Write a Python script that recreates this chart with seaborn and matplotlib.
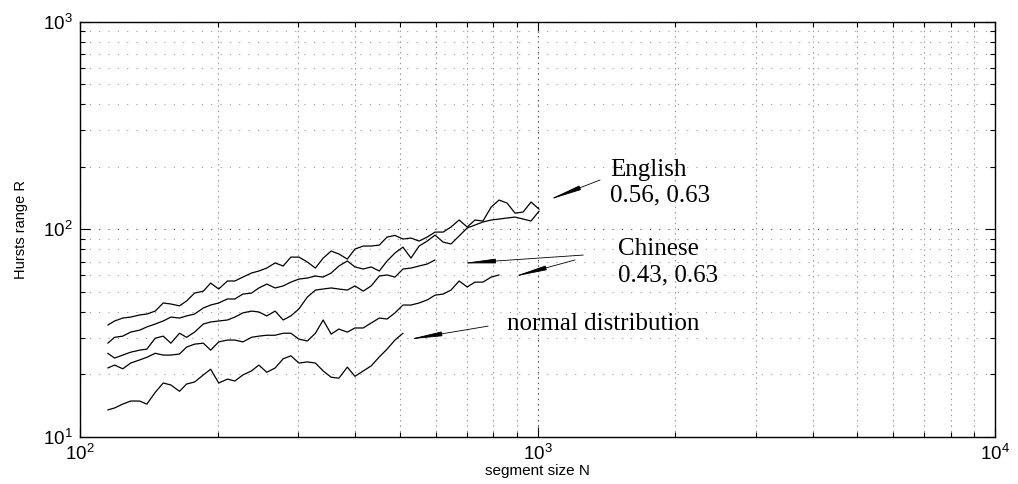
import numpy as np
import pandas as pd
import matplotlib
matplotlib.use("Agg")
import matplotlib.pyplot as plt
import seaborn as sns
from matplotlib.ticker import LogLocator, NullFormatter

# Segment sizes shared by all curves (each curve uses a leading part of it)
N_GRID = [115, 119, 124, 129, 135, 140, 146, 152, 158, 165, 171, 178, 186, 193,
          201, 210, 218, 227, 237, 246, 256, 267, 278, 289, 301, 314, 327, 340,
          354, 368, 384, 399, 416, 433, 451, 469, 488, 508, 529, 551, 574, 597,
          622, 647, 674, 702, 730, 760, 792, 824, 858, 893, 930, 968, 1008]

# Hurst range R for each text / reference series
R_ENGLISH_A = [34.6, 36.2, 37.4, 37.8, 38.7, 39.1, 40.4, 44.2, 43.7, 42.8,
               45.2, 49.3, 50.4, 55.1, 51.6, 56.4, 56.4, 58.9, 61.6, 63.0,
               65.1, 68.9, 66.6, 73.5, 73.5, 69.6, 65.1, 72.7, 78.6, 76.1,
               71.9, 80.4, 83.1, 83.1, 84.0, 91.8, 93.5, 89.8, 90.8, 87.8,
               91.8, 97.0, 97.0, 102.6, 110.9, 102.6, 110.9, 109.7, 128.0, 138.4,
               133.8, 119.7, 121.1, 135.4, 125.0]
R_ENGLISH_B = [28.3, 30.2, 30.6, 32.0, 32.7, 33.9, 35.0, 36.2, 37.8, 37.4,
               38.3, 39.1, 41.8, 43.2, 44.2, 46.2, 46.2, 48.8, 49.3, 52.2,
               54.5, 52.2, 53.4, 55.7, 57.6, 58.3, 59.6, 58.9, 61.6, 66.6,
               70.4, 65.9, 64.4, 65.9, 63.0, 70.4, 76.9, 82.1, 72.7, 83.1,
               87.8, 93.8, 86.8, 85.0, 92.9, 101.5, 104.9, 108.5, 110.9, 112.1,
               113.4, 114.6, 112.1, 109.7, 122.4]
R_CHINESE_A = [25.3, 24.0, 24.8, 25.6, 26.2, 26.5, 29.9, 30.6, 28.3, 31.6,
               30.2, 32.0, 35.0, 35.8, 36.2, 36.6, 37.8, 39.6, 40.4, 40.0,
               38.3, 40.4, 36.6, 38.3, 41.4, 47.2, 51.0, 51.6, 52.2, 51.6,
               51.0, 53.4, 50.4, 53.4, 59.6, 60.3, 58.9, 64.4, 65.1, 66.6,
               68.1, 71.2]
R_CHINESE_B = [21.5, 22.2, 21.3, 22.7, 23.5, 24.2, 25.3, 24.8, 24.8, 25.1,
               27.1, 28.0, 28.3, 26.2, 28.7, 29.3, 29.3, 28.7, 30.2, 30.6,
               30.9, 30.9, 31.6, 31.6, 29.6, 29.0, 31.6, 36.6, 31.3, 33.1,
               32.0, 33.5, 33.5, 35.4, 37.4, 37.0, 39.6, 43.2, 43.2, 44.2,
               45.7, 48.2, 48.8, 51.0, 56.4, 52.8, 55.7, 55.7, 58.9, 60.3]
R_NORMAL = [13.5, 13.8, 14.4, 14.9, 14.9, 14.4, 16.4, 18.2, 17.8, 16.6,
            18.0, 18.4, 19.9, 21.2, 18.2, 19.0, 18.6, 19.9, 20.8, 22.2,
            20.5, 21.5, 23.8, 24.6, 22.7, 23.0, 22.7, 20.8, 19.4, 19.2,
            21.7, 19.6, 20.8, 22.0, 24.3, 26.5, 29.3, 31.6]

SERIES = {
    "English A": R_ENGLISH_A,
    "English B": R_ENGLISH_B,
    "Chinese A": R_CHINESE_A,
    "Chinese B": R_CHINESE_B,
    "normal": R_NORMAL,
}

frames = [pd.DataFrame({"N": N_GRID[:len(r)], "R": r, "series": name})
          for name, r in SERIES.items()]
df = pd.concat(frames, ignore_index=True)

sns.set_theme(style="ticks")
plt.rcParams["font.family"] = ["Liberation Sans", "DejaVu Sans"]

fig = plt.figure(figsize=(10.18, 4.84), dpi=100)
ax = fig.add_axes([0.0786, 0.0971, 0.8988, 0.8581])
ax.set_xscale("log")
ax.set_yscale("log")

sns.lineplot(data=df, x="N", y="R", units="series", estimator=None, sort=False,
             color="black", lw=0.9, ax=ax, legend=False)

ax.set_xlim(100, 1e4)
ax.set_ylim(10, 1e3)

for axis in (ax.xaxis, ax.yaxis):
    axis.set_major_locator(LogLocator(base=10, numticks=10))
    axis.set_minor_locator(LogLocator(base=10, subs=np.arange(2, 10), numticks=50))
    axis.set_minor_formatter(NullFormatter())

# dotted grid, major a little darker than minor
ax.grid(True, which="major", axis="x", color="0.3", linestyle=(0, (1.3, 3.5)), lw=0.8)
ax.grid(True, which="minor", axis="x", color="0.6", linestyle=(0, (1.3, 3.5)), lw=0.8)
ax.grid(True, which="major", axis="y", color="0.3", linestyle=(0, (1.0, 7.4)), lw=0.8)
ax.grid(True, which="minor", axis="y", color="0.6", linestyle=(0, (1.0, 7.4)), lw=0.8)

for sp in ax.spines.values():
    sp.set_visible(True)
    sp.set_color("black")
    sp.set_linewidth(1.0)

ax.tick_params(which="both", direction="in", top=True, right=True,
               bottom=True, left=True, color="black", width=0.8)
ax.tick_params(which="major", length=7, labelsize=13.5, pad=5, labelcolor="black")
ax.tick_params(which="minor", length=3.6)

ax.set_xlabel("segment size N", fontsize=11, color="black")
ax.set_ylabel("Hursts range R", fontsize=10.5, color="black")
ax.xaxis.set_label_coords(0.5, -0.066)
ax.yaxis.set_label_coords(-0.057, 0.5)

serif = ["Liberation Serif", "DejaVu Serif"]
txt = dict(family=serif, fontsize=18, va="center", ha="left", color="black")
ax.text(1441, 193, "English", **txt)
ax.text(1441, 146.3, "0.56, 0.63", **txt)
ax.text(1500, 80.4, "Chinese", **txt)
ax.text(1500, 60.3, "0.43, 0.63", **txt)
ax.text(858, 35.0, "normal distribution", **txt)

arrow = dict(arrowstyle="-|>,head_length=1.0,head_width=0.07", color="black",
             lw=0.6, shrinkA=0, shrinkB=0, mutation_scale=20)
ax.annotate("", xy=(1056, 138.4), xytext=(1370, 172.8), arrowprops=arrow)
ax.annotate("", xy=(683, 68.6), xytext=(1259, 75.2), arrowprops=arrow)
ax.annotate("", xy=(885, 59.1), xytext=(1208, 71.2), arrowprops=arrow)
ax.annotate("", xy=(522, 29.5), xytext=(780, 34.2), arrowprops=arrow)

fig.savefig("out.png", dpi=100, facecolor="white")
